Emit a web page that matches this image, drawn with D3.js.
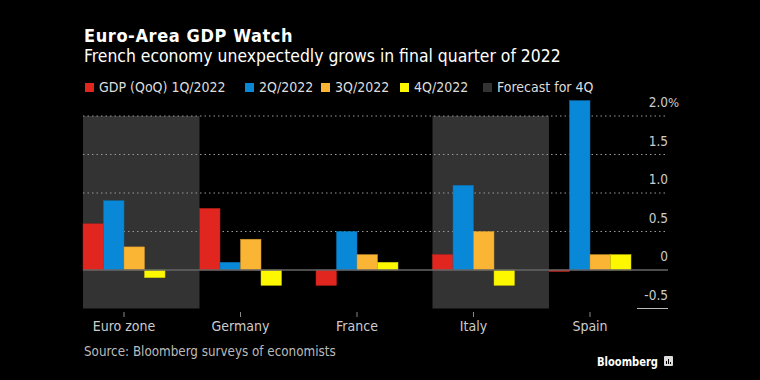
<!DOCTYPE html>
<html>
<head>
<meta charset="utf-8">
<script src="https://cdn.jsdelivr.net/npm/d3@7"></script>
<style>
    body { margin: 0; background: #000; }
    text { font-family: "DejaVu Sans Condensed", "DejaVu Sans", sans-serif; }
</style>
</head>
<body>
<svg id="chart" width="760" height="380"></svg>
<script>
// data
let countries = ["Euro zone", "Germany", "France", "Italy", "Spain"];
let quarters = ["1Q/2022", "2Q/2022", "3Q/2022", "4Q/2022"];
let q1 = [0.6, 0.8, -0.2, 0.2, -0.02];
let q2 = [0.9, 0.1, 0.5, 1.1, 2.2];
let q3 = [0.3, 0.4, 0.2, 0.5, 0.2];
let q4 = [-0.1, -0.2, 0.1, -0.2, 0.2];
let forecastFor4Q = ["Euro zone", "Italy"];
let yTicks = [-0.5, 0, 0.5, 1.0, 1.5, 2.0];
let legendLabels = ["GDP (QoQ) 1Q/2022", "2Q/2022", "3Q/2022", "4Q/2022", "Forecast for 4Q"];

let colors = ["#e0261f", "#0a88d8", "#fbb534", "#fdf800"];
let forecastColor = "#333333";

let svg = d3.select("#chart");
svg.append("rect").attr("width", 760).attr("height", 380).attr("fill", "#000");

// titles
svg.append("text")
    .attr("x", 84).attr("y", 42)
    .attr("fill", "#fff")
    .attr("font-size", 18).attr("font-weight", "bold")
    .attr("letter-spacing", 0.6)
    .text("Euro-Area GDP Watch");
svg.append("text")
    .attr("x", 84).attr("y", 62)
    .attr("fill", "#fff")
    .attr("font-size", 17.4)
    .text("French economy unexpectedly grows in final quarter of 2022");

// legend
let legendX = [85, 245, 321, 400, 483];
let legendColors = colors.concat([forecastColor]);
let legend = svg.append("g").selectAll("g")
    .data(legendLabels)
    .enter()
    .append("g")
    .attr("transform", (d, i) => "translate(" + legendX[i] + ",83)");
legend.append("rect")
    .attr("width", 9).attr("height", 9)
    .attr("fill", (d, i) => legendColors[i]);
legend.append("text")
    .attr("x", 14).attr("y", 9)
    .attr("fill", "#ddd")
    .attr("font-size", 14)
    .text(d => d);

// scales
let xScale = d3.scaleBand()
    .domain(countries)
    .range([83, 631])
    .paddingInner(0.296)
    .paddingOuter(0);
let xSub = d3.scaleBand()
    .domain(quarters)
    .range([0, xScale.bandwidth()]);
let yScale = d3.scaleLinear()
    .domain([-0.5, 2.0])
    .range([308.5, 116]);

// forecast shading
svg.append("g").selectAll("rect")
    .data(forecastFor4Q)
    .enter()
    .append("rect")
    .attr("x", d => xScale(d))
    .attr("y", yScale(2.0))
    .attr("width", xScale.step())
    .attr("height", yScale(-0.5) - yScale(2.0))
    .attr("fill", forecastColor);

// gridlines
let gridX0 = 83, gridX1 = 668;
svg.append("g").selectAll("line")
    .data(yTicks.filter(d => d > 0))
    .enter()
    .append("line")
    .attr("x1", gridX0).attr("x2", gridX1)
    .attr("y1", d => yScale(d)).attr("y2", d => yScale(d))
    .attr("stroke", "#999")
    .attr("stroke-width", 1)
    .attr("stroke-dasharray", "1.5,3");

// bars
let rows = countries.map((c, i) => ({ country: c, values: [q1[i], q2[i], q3[i], q4[i]] }));
let groups = svg.append("g").selectAll("g")
    .data(rows)
    .enter()
    .append("g")
    .attr("transform", d => "translate(" + xScale(d.country) + ",0)");
groups.selectAll("rect")
    .data(d => d.values.map((v, j) => ({ q: quarters[j], v: v, j: j })))
    .enter()
    .append("rect")
    .attr("x", d => xSub(d.q))
    .attr("y", d => yScale(Math.max(0, d.v)))
    .attr("width", xSub.bandwidth())
    .attr("height", d => Math.abs(yScale(d.v) - yScale(0)))
    .attr("fill", d => colors[d.j])
    .attr("stroke", d => d3.color(colors[d.j]).darker(0.6))
    .attr("stroke-width", 0.5);

// zero line
svg.append("line")
    .attr("x1", gridX0).attr("x2", gridX1)
    .attr("y1", yScale(0)).attr("y2", yScale(0))
    .attr("stroke", "#666").attr("stroke-width", 1.5);
// bottom line under -0.5 label
svg.append("line")
    .attr("x1", 637).attr("x2", gridX1)
    .attr("y1", yScale(-0.5)).attr("y2", yScale(-0.5))
    .attr("stroke", "#bbb").attr("stroke-width", 1);

// y labels
svg.append("g").selectAll("text")
    .data(yTicks)
    .enter()
    .append("text")
    .attr("x", 668)
    .attr("y", d => yScale(d) - 9)
    .attr("text-anchor", "end")
    .attr("fill", "#ccc")
    .attr("font-size", 13.5)
    .text(d => d === 0 ? "0" : d.toFixed(1));
svg.append("text")
    .attr("x", 668).attr("y", yScale(2.0) - 9)
    .attr("fill", "#ccc")
    .attr("font-size", 13)
    .text("%");

// x axis
let xAxis = svg.append("g");
xAxis.selectAll("line")
    .data(countries)
    .enter()
    .append("line")
    .attr("x1", d => xScale(d) + xScale.bandwidth() / 2)
    .attr("x2", d => xScale(d) + xScale.bandwidth() / 2)
    .attr("y1", 312).attr("y2", 317)
    .attr("stroke", "#888");
xAxis.selectAll("text")
    .data(countries)
    .enter()
    .append("text")
    .attr("x", d => xScale(d) + xScale.bandwidth() / 2)
    .attr("y", 331)
    .attr("text-anchor", "middle")
    .attr("fill", "#ccc")
    .attr("font-size", 14)
    .text(d => d);

// source
svg.append("text")
    .attr("x", 84).attr("y", 356)
    .attr("fill", "#bbb")
    .attr("font-size", 13.3)
    .text("Source: Bloomberg surveys of economists");

// logo
svg.append("text")
    .attr("x", 597).attr("y", 366)
    .attr("fill", "#fff")
    .attr("font-size", 13).attr("font-weight", "bold")
    .attr("textLength", 61).attr("lengthAdjust", "spacingAndGlyphs")
    .text("Bloomberg");
let logo = svg.append("g").attr("transform", "translate(664,356)");
logo.append("rect").attr("width", 9).attr("height", 10).attr("rx", 1).attr("fill", "#ddd");
logo.selectAll("line.b")
    .data([2.5, 4.5, 6.5])
    .enter()
    .append("line")
    .attr("x1", d => d).attr("x2", d => d)
    .attr("y1", (d, i) => [5, 3, 6][i]).attr("y2", 8)
    .attr("stroke", "#000").attr("stroke-width", 1);
</script>
</body>
</html>
